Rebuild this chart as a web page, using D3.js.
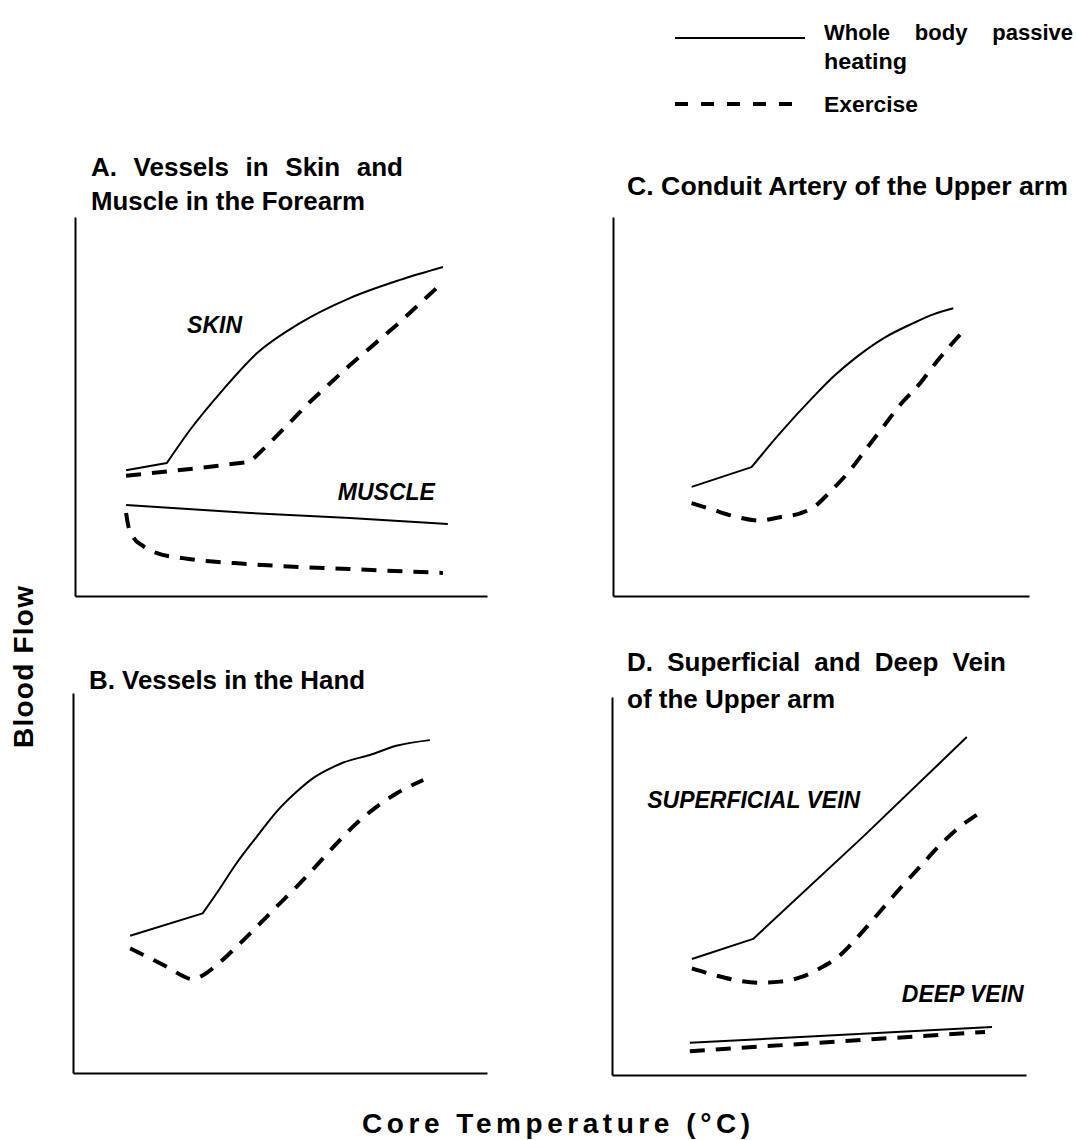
<!DOCTYPE html>
<html>
<head>
<meta charset="utf-8">
<script src="https://cdn.jsdelivr.net/npm/d3@7"></script>
<style>
  body { margin: 0; background: #fff; }
  svg { display: block; }
  text { font-family: "Liberation Sans", Arial, Helvetica, sans-serif; fill: #000; }
</style>
</head>
<body>
<svg id="chart" width="1076" height="1140"></svg>
<script>
// Schematic blood flow responses vs core temperature (arbitrary units 0-10 on both axes).
// Each series is a list of [coreTemperature, bloodFlow] pairs.

// A. Forearm skin and muscle
const skinPassive = [[1.24,3.32],[2.23,3.51],[2.79,4.38],[3.59,5.44],[4.42,6.41],[5.46,7.20],[6.67,7.86],[7.89,8.34],[8.93,8.68]];
const skinExercise = [[1.24,3.17],[3.03,3.38],[4.25,3.54],[4.73,4.04],[5.70,5.12],[6.67,6.09],[7.89,7.23],[8.91,8.26]];
const musclePassive = [[1.24,2.40],[4.25,2.19],[6.67,2.06],[9.05,1.90]];
const muscleExercise = [[1.24,2.19],[1.29,1.87],[1.41,1.56],[1.65,1.32],[1.99,1.13],[2.62,1.00],[4.25,0.84],[6.67,0.71],[8.93,0.61]];

// B. Hand
const handPassive = [[1.38,3.61],[3.13,4.20],[3.47,4.73],[3.95,5.52],[4.44,6.22],[4.92,6.88],[5.40,7.40],[5.80,7.76],[6.13,7.97],[6.53,8.17],[7.17,8.37],[7.81,8.61],[8.62,8.76]];
const handExercise = [[1.38,3.28],[1.86,3.02],[2.34,2.75],[2.66,2.55],[2.87,2.47],[3.15,2.58],[3.47,2.84],[3.95,3.32],[4.44,3.85],[4.92,4.38],[5.40,4.90],[5.89,5.47],[6.37,6.04],[6.85,6.57],[7.34,7.01],[7.82,7.36],[8.46,7.71]];

// C. Conduit artery of the upper arm
const arteryPassive = [[1.89,2.88],[3.33,3.40],[4.01,4.29],[4.82,5.26],[5.30,5.79],[5.86,6.31],[6.50,6.80],[7.22,7.20],[7.70,7.43],[8.18,7.59]];
const arteryExercise = [[1.89,2.45],[2.41,2.27],[2.89,2.11],[3.53,1.99],[4.01,2.08],[4.50,2.18],[4.82,2.34],[5.22,2.75],[5.70,3.32],[6.10,3.90],[6.50,4.47],[6.90,5.04],[7.38,5.61],[7.78,6.18],[8.37,6.93]];

// D. Superficial and deep veins of the upper arm
const superficialPassive = [[1.93,3.07],[3.41,3.60],[6.06,6.30],[8.57,8.94]];
const superficialExercise = [[1.93,2.82],[2.45,2.65],[3.09,2.49],[3.57,2.44],[4.06,2.47],[4.54,2.58],[5.02,2.82],[5.51,3.17],[5.91,3.62],[6.47,4.32],[6.96,4.94],[7.44,5.51],[7.92,6.08],[8.41,6.57],[8.81,6.88]];
const deepPassive = [[1.88,0.85],[9.18,1.27]];
const deepExercise = [[1.88,0.63],[9.01,1.14]];

// Text
const panelTitles = {
  A: ["A. Vessels in Skin and", "Muscle in the Forearm"],
  B: ["B. Vessels in the Hand"],
  C: ["C. Conduit Artery of the Upper arm"],
  D: ["D. Superficial and Deep Vein", "of the Upper arm"]
};
const legendLabels = [["Whole body passive", "heating"], ["Exercise"]];
const curveLabels = [
  { panel: "A", text: "SKIN", at: [2.72, 6.94] },
  { panel: "A", text: "MUSCLE", at: [6.38, 2.53] },
  { panel: "D", text: "SUPERFICIAL VEIN", at: [0.85, 7.06] },
  { panel: "D", text: "DEEP VEIN", at: [7.00, 1.93] }
];
const xAxisTitle = "Core Temperature (°C)";
const yAxisTitle = "Blood Flow";

// ---------------------------------------------------------------
const svg = d3.select("#chart");
const domain = [0, 10];

const frames = {
  A: { x: [75, 487], y: [596, 217] },
  B: { x: [73, 487], y: [1073, 693] },
  C: { x: [613, 1029], y: [596, 217] },
  D: { x: [612, 1026], y: [1075, 697] }
};

// [data, kind, straight]: points up to index `straight` are joined by straight
// segments, the rest by a smooth monotone curve (-1 = fully smooth, Infinity = fully straight).
const seriesByPanel = {
  A: [[skinPassive, "passive", 1], [skinExercise, "exercise", Infinity], [musclePassive, "passive", Infinity], [muscleExercise, "exercise", -1]],
  B: [[handPassive, "passive", 1], [handExercise, "exercise", -1]],
  C: [[arteryPassive, "passive", 1], [arteryExercise, "exercise", -1]],
  D: [[superficialPassive, "passive", Infinity], [superficialExercise, "exercise", -1], [deepPassive, "passive", Infinity], [deepExercise, "exercise", Infinity]]
};

const styles = {
  passive: { width: 2, dash: null },
  exercise: { width: 4, dash: "15,11" }
};

// Size a text element to a given width, either by widening word gaps or stretching glyphs.
function fitWidth(sel, width, mode) {
  const node = sel.node();
  const w = node.getComputedTextLength();
  if (mode === "words") {
    const spaces = (node.textContent.match(/ /g) || []).length;
    if (spaces) sel.attr("word-spacing", (width - w) / spaces);
  } else {
    sel.attr("textLength", width).attr("lengthAdjust", mode === "glyphs" ? "spacingAndGlyphs" : "spacing");
  }
}

const scales = {};
Object.keys(frames).forEach(key => {
  const f = frames[key];
  const x = d3.scaleLinear().domain(domain).range(f.x);
  const y = d3.scaleLinear().domain(domain).range(f.y);
  scales[key] = { x, y };
  const g = svg.append("g").attr("class", "panel-" + key);

  g.append("g").attr("transform", `translate(0,${f.y[0]})`)
    .call(d3.axisBottom(x).ticks(0).tickSizeOuter(0))
    .call(a => a.select(".domain").attr("stroke", "#000").attr("stroke-width", 2));
  g.append("g").attr("transform", `translate(${f.x[0]},0)`)
    .call(d3.axisLeft(y).ticks(0).tickSizeOuter(0))
    .call(a => a.select(".domain").attr("stroke", "#000").attr("stroke-width", 2));

  const straight = d3.line().x(d => x(d[0])).y(d => y(d[1])).curve(d3.curveLinear);
  const smooth = d3.line().x(d => x(d[0])).y(d => y(d[1])).curve(d3.curveMonotoneX);

  seriesByPanel[key].forEach(([data, kind, k]) => {
    let d;
    if (k === Infinity || k >= data.length - 1) d = straight(data);
    else if (k <= 0) d = smooth(data);
    else {
      // one continuous path so the dash pattern runs on unbroken
      d = straight(data.slice(0, k + 1)) + smooth(data.slice(k)).replace(/^M[^A-Za-z]*/, "");
    }
    const s = styles[kind];
    g.append("path")
      .attr("d", d)
      .attr("fill", "none")
      .attr("stroke", "#000")
      .attr("stroke-width", s.width)
      .attr("stroke-dasharray", s.dash)
      .attr("stroke-linejoin", "round");
  });
});

// Panel titles
const titleSpecs = [
  { key: "A", lines: [[91, 176, 312, "words"], [91, 210, 274, "glyphs"]] },
  { key: "B", lines: [[89, 689, 276, "glyphs"]] },
  { key: "C", lines: [[627, 195, 441, "glyphs"]] },
  { key: "D", lines: [[627, 671, 379, "words"], [627, 708, 208, "glyphs"]] }
];
titleSpecs.forEach(t => {
  panelTitles[t.key].forEach((txt, i) => {
    const [tx, ty, tw, mode] = t.lines[i];
    const el = svg.append("text").attr("x", tx).attr("y", ty)
      .attr("font-size", 26).attr("font-weight", "bold").text(txt);
    fitWidth(el, tw, mode);
  });
});

// Curve labels
curveLabels.forEach(l => {
  const s = scales[l.panel];
  svg.append("text")
    .attr("x", s.x(l.at[0])).attr("y", s.y(l.at[1]))
    .attr("font-size", 23).attr("font-weight", "bold").attr("font-style", "italic")
    .text(l.text);
});

// Legend
const legend = svg.append("g");
legend.append("line").attr("x1", 675).attr("x2", 805).attr("y1", 38).attr("y2", 38)
  .attr("stroke", "#000").attr("stroke-width", 2);
legend.append("line").attr("x1", 675).attr("x2", 805).attr("y1", 104).attr("y2", 104)
  .attr("stroke", "#000").attr("stroke-width", 4).attr("stroke-dasharray", "13,13");
const legendPos = [[[824, 40, 249, "words"], [824, 69, 83, "glyphs"]], [[824, 112, 94, "glyphs"]]];
legendLabels.forEach((lines, i) => {
  lines.forEach((txt, j) => {
    const [tx, ty, tw, mode] = legendPos[i][j];
    const el = legend.append("text").attr("x", tx).attr("y", ty)
      .attr("font-size", 22).attr("font-weight", "bold").text(txt);
    fitWidth(el, tw, mode);
  });
});

// Axis titles
const xt = svg.append("text").attr("x", 362).attr("y", 1133)
  .attr("font-size", 28).attr("font-weight", "bold").text(xAxisTitle);
fitWidth(xt, 388, "spacing");
const yt = svg.append("text").attr("transform", "translate(33,748) rotate(-90)")
  .attr("font-size", 28).attr("font-weight", "bold").text(yAxisTitle);
fitWidth(yt, 162, "spacing");
</script>
</body>
</html>
